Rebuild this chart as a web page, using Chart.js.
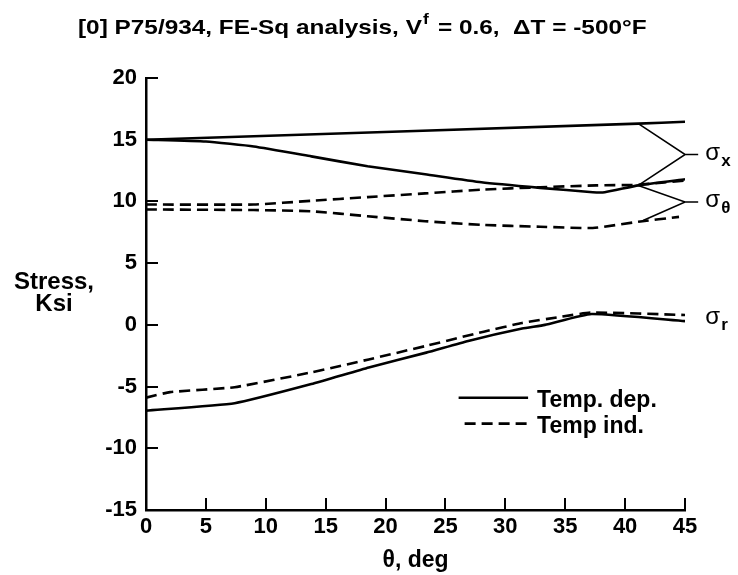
<!DOCTYPE html>
<html lang="en">
<head>
<meta charset="utf-8">
<title>Stress vs. theta</title>
<script src="https://cdn.jsdelivr.net/npm/chart.js@4.4.0/dist/chart.umd.min.js"></script>
<style>
    html, body { margin: 0; padding: 0; background: #fff; }
    canvas { display: block; }
</style>
</head>
<body>
<canvas id="stress-chart" width="738" height="575"></canvas>
<script>
// Axis ticks
const thetaTicks = [0, 5, 10, 15, 20, 25, 30, 35, 40, 45];
const stressTicks = [-15, -10, -5, 0, 5, 10, 15, 20];

// sigma_x, upper and lower branch (solid)
const sigmaXUpperTheta = [0, 41.1, 45];
const sigmaXUpperStress = [15.0, 16.3, 16.45];
const sigmaXLowerTheta = [0, 5, 9, 13.8, 18.5, 23.3, 28, 32.9, 37.3, 38.3, 41.1, 45];
const sigmaXLowerStress = [15.0, 14.85, 14.45, 13.65, 12.85, 12.2, 11.55, 11.1, 10.75, 10.75, 11.3, 11.8];

// sigma_theta, upper and lower branch (dashed)
const sigmaThetaUpperTheta = [0, 9, 13.8, 18.5, 23.3, 28, 32.9, 37.6, 41.1, 45];
const sigmaThetaUpperStress = [9.75, 9.75, 10.05, 10.35, 10.65, 10.95, 11.15, 11.3, 11.35, 11.7];
const sigmaThetaLowerTheta = [0, 9, 13.8, 18.5, 23.3, 28, 32.9, 37.3, 41.1, 44.5];
const sigmaThetaLowerStress = [9.35, 9.3, 9.2, 8.8, 8.4, 8.1, 7.95, 7.85, 8.35, 8.75];

// sigma_r, temp. dependent (solid) and temp. independent (dashed)
const sigmaRDepTheta = [0, 7.4, 13.8, 18.6, 23.4, 26.9, 31.4, 33.3, 37.2, 45];
const sigmaRDepStress = [-6.95, -6.35, -4.8, -3.45, -2.25, -1.3, -0.3, 0, 0.88, 0.3];
const sigmaRIndTheta = [0, 2, 7.4, 13.8, 18.6, 23.4, 28.2, 31.4, 34.6, 37.2, 45];
const sigmaRIndStress = [-5.9, -5.45, -5.05, -3.85, -2.8, -1.7, -0.55, 0.15, 0.65, 1.0, 0.8];

// Leader lines from the curve labels back to the curves
const sigmaXLeaderTheta = [41.1, 45, 46.1, 45, 41.1];
const sigmaXLeaderStress = [16.3, 13.8, 13.8, 13.8, 11.3];
const sigmaThetaLeaderTheta = [41.1, 45, 46.1, 45, 41.5];
const sigmaThetaLeaderStress = [11.3, 9.95, 9.95, 9.95, 8.45];

// Curve labels (sigma + subscript) and where they sit
const curveLabelSubs = ['x', 'θ', 'r'];
const curveLabelTheta = [46.7, 46.7, 46.7];
const curveLabelStress = [13.8, 9.95, 0.45];

const legendLabels = ['Temp. dep.', 'Temp ind.'];

const FONT = "'Liberation Sans', Arial, Helvetica, sans-serif";
const DASH = [11, 6];

function toPoints(xs, ys) {
    return xs.map((x, i) => ({ x: x, y: ys[i] }));
}

function curve(xs, ys, dashed) {
    return {
        data: toPoints(xs, ys),
        borderColor: '#000',
        borderWidth: 2.6,
        borderDash: dashed ? DASH : [],
        pointRadius: 0,
        tension: 0.15,
        fill: false
    };
}

function leader(xs, ys) {
    return {
        data: toPoints(xs, ys),
        borderColor: '#000',
        borderWidth: 1.6,
        pointRadius: 0,
        tension: 0,
        fill: false,
        clip: false
    };
}

// Title, inward tick marks, y-axis title, legend and curve labels
const decorations = {
    id: 'decorations',
    afterDraw(chart) {
        const ctx = chart.ctx;
        const xs = chart.scales.x;
        const ys = chart.scales.y;
        const area = chart.chartArea;

        ctx.save();
        ctx.strokeStyle = '#000';
        ctx.fillStyle = '#000';

        // tick marks pointing into the plot
        ctx.lineWidth = 2;
        ctx.beginPath();
        thetaTicks.forEach(t => {
            const px = Math.round(xs.getPixelForValue(t));
            ctx.moveTo(px, area.bottom);
            ctx.lineTo(px, area.bottom - 12);
        });
        stressTicks.forEach(s => {
            const py = Math.round(ys.getPixelForValue(s));
            ctx.moveTo(area.left, py);
            ctx.lineTo(area.left + 12, py);
        });
        ctx.stroke();

        // main title with superscript f (the typeface runs a little wide)
        const partA = '[0] P75/934, FE-Sq analysis, V';
        const sup = 'f';
        const partB = ' = 0.6,  ΔT = -500°F';
        ctx.save();
        ctx.translate(78, 34);
        ctx.scale(1.16, 1);
        ctx.textBaseline = 'alphabetic';
        ctx.textAlign = 'left';
        ctx.font = 'bold 21px ' + FONT;
        const wA = ctx.measureText(partA).width;
        ctx.fillText(partA, 0, 0);
        ctx.font = 'bold 15px ' + FONT;
        ctx.fillText(sup, wA + 1, -10);
        const wS = ctx.measureText(sup).width + 3;
        ctx.font = 'bold 21px ' + FONT;
        ctx.fillText(partB, wA + wS, 0);
        ctx.restore();

        // y-axis title
        ctx.font = 'bold 24px ' + FONT;
        ctx.textAlign = 'center';
        ctx.textBaseline = 'middle';
        ctx.fillText('Stress,', 54, 282);
        ctx.fillText('Ksi', 54, 304);

        // legend
        ctx.font = 'bold 23px ' + FONT;
        const legX0 = xs.getPixelForValue(26.1);
        const legX1 = xs.getPixelForValue(31.9);
        const legY = [ys.getPixelForValue(-5.9), ys.getPixelForValue(-8.0)];
        ctx.lineWidth = 2.6;
        legendLabels.forEach((label, i) => {
            ctx.setLineDash(i === 0 ? [] : DASH);
            ctx.beginPath();
            ctx.moveTo(legX0 + (i === 0 ? 0 : 6), legY[i]);
            ctx.lineTo(legX1, legY[i]);
            ctx.stroke();
            ctx.setLineDash([]);
            ctx.textAlign = 'left';
            ctx.fillText(label, legX1 + 9, legY[i] + 3);
        });

        // sigma labels
        curveLabelSubs.forEach((sub, i) => {
            const px = xs.getPixelForValue(curveLabelTheta[i]);
            const py = ys.getPixelForValue(curveLabelStress[i]);
            ctx.textAlign = 'left';
            ctx.textBaseline = 'alphabetic';
            ctx.font = '24px ' + FONT;
            ctx.fillText('σ', px, py + 5);
            const w = ctx.measureText('σ').width;
            ctx.font = 'bold 17px ' + FONT;
            ctx.fillText(sub, px + w + 1, py + 11);
        });

        ctx.restore();
    }
};

new Chart(document.getElementById('stress-chart'), {
    type: 'line',
    data: {
        datasets: [
            curve(sigmaXUpperTheta, sigmaXUpperStress, false),
            curve(sigmaXLowerTheta, sigmaXLowerStress, false),
            curve(sigmaThetaUpperTheta, sigmaThetaUpperStress, true),
            curve(sigmaThetaLowerTheta, sigmaThetaLowerStress, true),
            curve(sigmaRDepTheta, sigmaRDepStress, false),
            curve(sigmaRIndTheta, sigmaRIndStress, true),
            leader(sigmaXLeaderTheta, sigmaXLeaderStress),
            leader(sigmaThetaLeaderTheta, sigmaThetaLeaderStress)
        ]
    },
    options: {
        responsive: false,
        animation: false,
        layout: { padding: { top: 78, right: 53, left: 0, bottom: 0 } },
        plugins: {
            legend: { display: false },
            tooltip: { enabled: false }
        },
        scales: {
            x: {
                type: 'linear',
                min: 0,
                max: 45,
                afterBuildTicks: s => { s.ticks = thetaTicks.map(v => ({ value: v })); },
                afterFit: s => { s.height = 65; },
                ticks: { color: '#000', padding: 4, font: { family: FONT, size: 22, weight: 'bold' } },
                grid: { display: false, drawTicks: false },
                border: { display: true, color: '#000', width: 2.5 },
                title: {
                    display: true,
                    text: 'θ, deg',
                    color: '#000',
                    padding: { top: 0, bottom: 1 },
                    font: { family: FONT, size: 23, weight: 'bold' }
                }
            },
            y: {
                type: 'linear',
                min: -15,
                max: 20,
                afterBuildTicks: s => { s.ticks = stressTicks.map(v => ({ value: v })); },
                afterFit: s => { s.width = 146; },
                ticks: { color: '#000', padding: 9, font: { family: FONT, size: 22, weight: 'bold' } },
                grid: { display: false, drawTicks: false },
                border: { display: true, color: '#000', width: 2.5 }
            }
        }
    },
    plugins: [decorations]
});
</script>
</body>
</html>
